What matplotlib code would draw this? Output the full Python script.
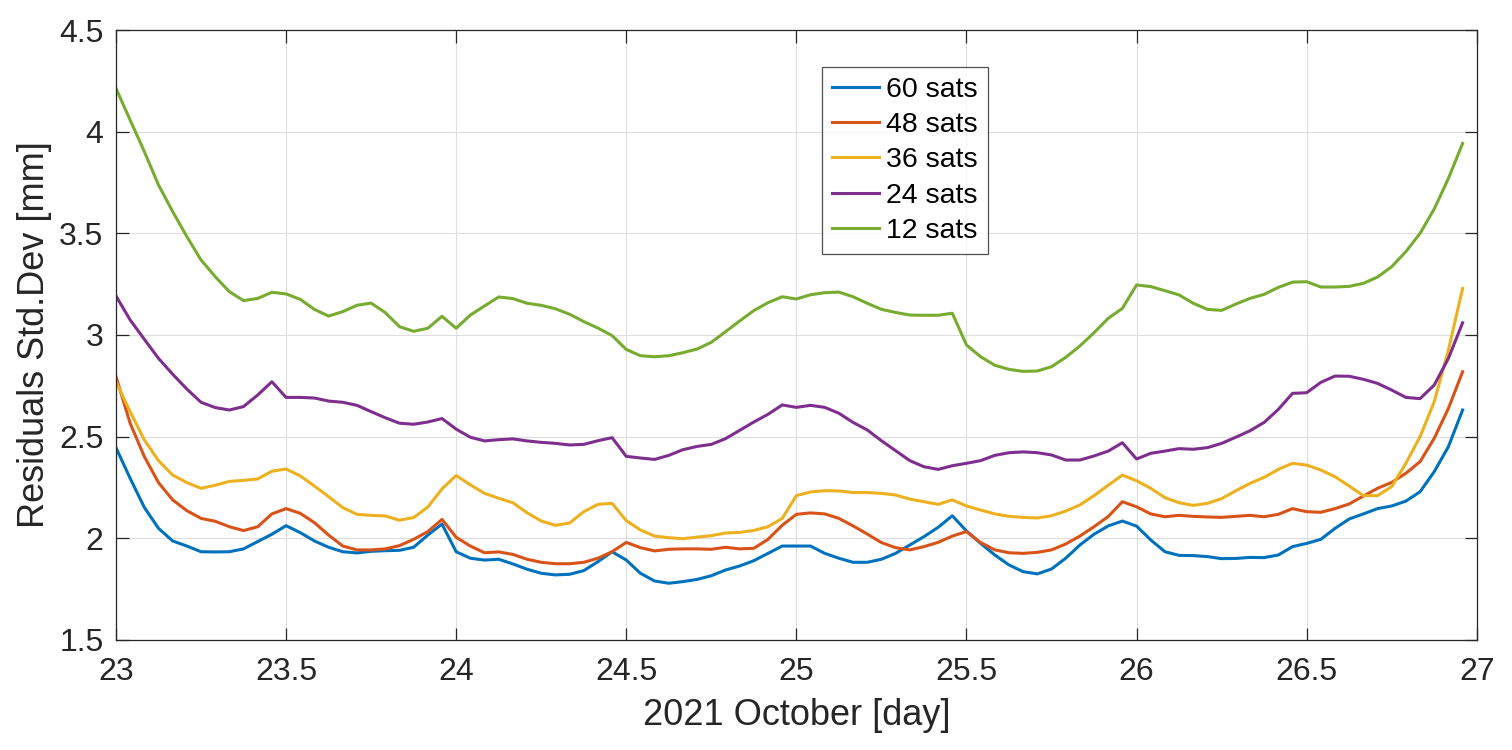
import matplotlib
matplotlib.use("Agg")
import matplotlib.pyplot as plt
import numpy as np

plt.rcParams['font.family'] = ['Liberation Sans', 'DejaVu Sans']

# hourly samples, 2021 Oct 23 00:00 .. 26 23:00
days = 23 + np.arange(96) / 24.0

sats60 = [2.446, 2.295, 2.152, 2.049, 1.987, 1.962, 1.934, 1.933, 1.934, 1.948,
          1.984, 2.020, 2.062, 2.028, 1.987, 1.956, 1.934, 1.928, 1.936, 1.939,
          1.941, 1.956, 2.016, 2.070, 1.934, 1.902, 1.893, 1.897, 1.874, 1.848,
          1.828, 1.820, 1.823, 1.841, 1.885, 1.934, 1.893, 1.828, 1.790, 1.779,
          1.787, 1.798, 1.816, 1.844, 1.864, 1.890, 1.926, 1.962, 1.962, 1.962,
          1.926, 1.902, 1.882, 1.882, 1.897, 1.926, 1.967, 2.008, 2.054, 2.111,
          2.036, 1.975, 1.918, 1.869, 1.836, 1.825, 1.849, 1.902, 1.967, 2.020,
          2.061, 2.085, 2.060, 1.992, 1.934, 1.916, 1.915, 1.910, 1.900, 1.901,
          1.906, 1.905, 1.918, 1.959, 1.975, 1.995, 2.049, 2.095, 2.120, 2.146,
          2.159, 2.183, 2.229, 2.328, 2.451, 2.631]

sats48 = [2.795, 2.566, 2.402, 2.274, 2.189, 2.136, 2.098, 2.084, 2.057, 2.038,
          2.057, 2.120, 2.146, 2.123, 2.077, 2.016, 1.962, 1.943, 1.943, 1.948,
          1.964, 1.995, 2.033, 2.093, 2.005, 1.962, 1.929, 1.933, 1.921, 1.897,
          1.882, 1.875, 1.875, 1.882, 1.902, 1.934, 1.980, 1.954, 1.938, 1.946,
          1.948, 1.948, 1.946, 1.956, 1.948, 1.951, 1.995, 2.064, 2.118, 2.125,
          2.120, 2.098, 2.061, 2.021, 1.979, 1.954, 1.943, 1.959, 1.980, 2.011,
          2.033, 1.979, 1.943, 1.929, 1.926, 1.931, 1.943, 1.972, 2.011, 2.057,
          2.107, 2.180, 2.155, 2.120, 2.106, 2.113, 2.108, 2.105, 2.103, 2.108,
          2.113, 2.106, 2.118, 2.146, 2.131, 2.128, 2.146, 2.169, 2.208, 2.246,
          2.275, 2.320, 2.377, 2.492, 2.639, 2.819]

sats36 = [2.770, 2.623, 2.484, 2.382, 2.311, 2.274, 2.246, 2.261, 2.280, 2.285,
          2.292, 2.330, 2.341, 2.307, 2.257, 2.205, 2.151, 2.118, 2.113, 2.110,
          2.089, 2.102, 2.154, 2.243, 2.309, 2.263, 2.221, 2.197, 2.175, 2.126,
          2.085, 2.064, 2.075, 2.131, 2.167, 2.172, 2.087, 2.041, 2.011, 2.003,
          1.998, 2.006, 2.013, 2.026, 2.029, 2.039, 2.057, 2.098, 2.210, 2.228,
          2.234, 2.233, 2.225, 2.225, 2.221, 2.213, 2.193, 2.180, 2.167, 2.189,
          2.159, 2.139, 2.120, 2.108, 2.103, 2.100, 2.111, 2.134, 2.164, 2.210,
          2.261, 2.311, 2.283, 2.246, 2.200, 2.175, 2.162, 2.172, 2.195, 2.234,
          2.270, 2.300, 2.339, 2.369, 2.360, 2.336, 2.303, 2.257, 2.210, 2.210,
          2.254, 2.369, 2.500, 2.672, 2.926, 3.229]

sats24 = [3.192, 3.074, 2.979, 2.885, 2.807, 2.734, 2.669, 2.643, 2.631, 2.648,
          2.705, 2.770, 2.693, 2.693, 2.690, 2.675, 2.669, 2.654, 2.623, 2.593,
          2.566, 2.561, 2.572, 2.589, 2.537, 2.497, 2.479, 2.485, 2.489, 2.479,
          2.472, 2.467, 2.459, 2.462, 2.480, 2.495, 2.403, 2.395, 2.388, 2.408,
          2.436, 2.452, 2.462, 2.490, 2.531, 2.572, 2.610, 2.656, 2.644, 2.654,
          2.644, 2.615, 2.570, 2.533, 2.480, 2.431, 2.382, 2.352, 2.339, 2.357,
          2.369, 2.382, 2.408, 2.421, 2.425, 2.421, 2.410, 2.385, 2.385, 2.405,
          2.429, 2.470, 2.390, 2.418, 2.429, 2.441, 2.438, 2.446, 2.467, 2.497,
          2.529, 2.570, 2.634, 2.713, 2.716, 2.767, 2.798, 2.797, 2.782, 2.762,
          2.729, 2.693, 2.687, 2.754, 2.885, 3.060]

sats12 = [4.213, 4.057, 3.902, 3.738, 3.607, 3.484, 3.369, 3.287, 3.213, 3.169,
          3.180, 3.210, 3.202, 3.175, 3.126, 3.093, 3.115, 3.146, 3.157, 3.110,
          3.041, 3.018, 3.033, 3.092, 3.033, 3.098, 3.143, 3.187, 3.179, 3.156,
          3.146, 3.129, 3.102, 3.066, 3.034, 2.997, 2.929, 2.898, 2.893, 2.898,
          2.913, 2.931, 2.964, 3.016, 3.069, 3.120, 3.159, 3.188, 3.177, 3.198,
          3.208, 3.211, 3.188, 3.156, 3.126, 3.111, 3.098, 3.097, 3.097, 3.107,
          2.951, 2.893, 2.851, 2.831, 2.821, 2.823, 2.844, 2.890, 2.946, 3.011,
          3.082, 3.131, 3.246, 3.238, 3.218, 3.197, 3.156, 3.126, 3.121, 3.152,
          3.180, 3.200, 3.234, 3.260, 3.262, 3.236, 3.236, 3.239, 3.254, 3.285,
          3.336, 3.410, 3.500, 3.620, 3.770, 3.942]

series = [sats60, sats48, sats36, sats24, sats12]
labels = ["60 sats", "48 sats", "36 sats", "24 sats", "12 sats"]
colors = ["#0072BD", "#D95319", "#EDB120", "#7E2F8E", "#77AC30"]

fig = plt.figure(figsize=(15.12, 7.5), dpi=100)
ax = fig.add_axes([0.0767, 0.1467, 0.9, 0.8133])

for vals, lab, c in zip(series, labels, colors):
    ax.plot(days, vals, color=c, lw=2.2, label=lab)

ax.set_xlim(23, 27)
ax.set_ylim(1.5, 4.5)
ax.set_xticks(np.arange(23, 27.01, 0.5))
ax.set_yticks(np.arange(1.5, 4.51, 0.5))
ax.set_xticklabels(["23", "23.5", "24", "24.5", "25", "25.5", "26", "26.5", "27"])
ax.set_yticklabels(["1.5", "2", "2.5", "3", "3.5", "4", "4.5"])
ax.grid(True, color="#dedede", lw=0.8)
ax.set_axisbelow(True)
ax.tick_params(direction="in", length=9, width=0.9, top=True, right=True,
               labelsize=23, colors="#262626")
ax.tick_params(axis="x", pad=12)
ax.tick_params(axis="y", pad=9)
for s in ax.spines.values():
    s.set_color("#262626")
    s.set_linewidth(0.9)

ax.set_xlabel("2021 October [day]", fontsize=26, color="#262626", labelpad=8)
ax.set_ylabel("Residuals Std.Dev [mm]", fontsize=26, color="#262626", labelpad=5)

leg = ax.legend(loc="upper left", bbox_to_anchor=(0.519, 0.939), borderaxespad=0,
                fontsize=20.5, frameon=True, fancybox=False, handlelength=1.65,
                handletextpad=0.25, labelspacing=0.32, borderpad=0.35)
leg.get_frame().set_edgecolor("#262626")
leg.get_frame().set_linewidth(0.9)

fig.savefig("out.png", dpi=100)
